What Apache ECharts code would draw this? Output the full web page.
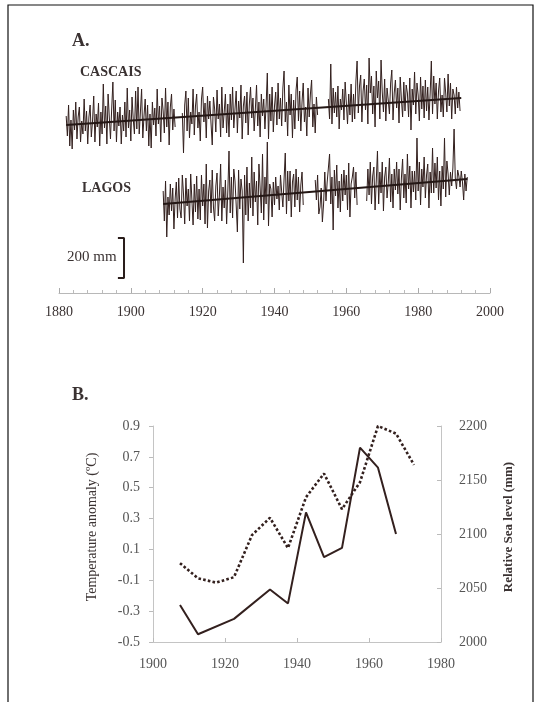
<!DOCTYPE html>
<html>
<head>
<meta charset="utf-8">
<script src="https://cdn.jsdelivr.net/npm/echarts@6/dist/echarts.min.js"></script>
<style>
    body { margin: 0; background: #fff; }
    #chart { width: 542px; height: 702px; }
</style>
</head>
<body>
<div id="chart"></div>
<script>
// panel A: monthly-ish sea level (mm), 3 readings per year
var cascaisStart = 1882;
var cascaisLevel = [
    // 1882-1886
    2095, 1995, 2150, 1945, 2075, 1930, 2125, 2025, 2165, 1980, 2090, 2140, 1965, 2070, 2005,
    // 1887-1891
    2180, 2020, 2120, 1955, 2090, 2150, 1990, 2070, 2195, 1965, 2105, 2040, 2160, 1945, 2115,
    // 1892-1896
    2005, 2255, 2035, 2145, 1955, 2205, 2090, 1980, 2130, 2265, 2020, 2175, 1965, 2115, 2045,
    // 1897-1901
    2140, 1955, 2100, 2020, 2165, 1990, 2235, 2035, 2125, 1970, 2190, 2080, 2005, 2220, 2030,
    // 1902-1906
    2240, 2005, 2115, 2230, 1985, 2095, 2180, 2020, 2150, 1945, 2105, 1935, 2165, 2050, 2135,
    // 1907-1911
    1995, 2230, 2055, 2145, 1965, 2185, 2120, 2010, 2235, 2040, 2165, 1950, 2140, 2205, 2025,
    // 1912-1916
    2130, 2040, null, null, null, null, null, 2110, 1910, 2150, 2220, 2020, 2185, 1985, 2115,
    // 1917-1921
    2055, 2230, 2000, 2145, 2205, 2035, 2115, 1970, 2180, 2240, 2065, 2160, 1985, 2195, 2080,
    // 1922-1926
    2170, 2055, 1950, 2190, 2130, 2015, 2225, 2080, 2155, 1990, 2240, 2035, 2115, 2205, 2010,
    // 1927-1931
    2155, 1990, 2205, 2075, 2240, 2035, 2130, 2220, 2010, 2170, 2085, 2250, 1980, 2145, 2195,
    // 1932-1936
    2060, 2215, 2000, 2155, 2240, 2085, 2185, 2020, 2130, 2250, 2045, 2165, 1990, 2205, 2095,
    // 1937-1941
    2180, 2030, 2150, 2310, 1980, 2205, 2070, 2240, 2015, 2145, 2215, 2050, 2260, 2080, 2185,
    // 1942-1946
    2045, 2235, 2320, 2065, 2165, 1995, 2250, 2100, 2205, 1985, 2175, 2030, 2225, 2290, 2070,
    // 1947-1951
    2220, 2020, 2165, 2260, 2065, 2140, 1995, 2235, 2090, 2205, 2275, 2040, 2155, 2010, 2190,
    // 1952-1956
    2100, null, null, null, null, null, null, null, null, 2180, 2080, 2355, 2055, 2235, 2110,
    // 1957-1961
    2215, 2090, 2245, 2030, 2180, 2125, 2230, 2075, 2265, 2160, 2055, 2205, 2100, 2255, 2065,
    // 1962-1966
    2205, 2080, 2270, 2370, 2110, 2245, 2300, 2065, 2220, 2280, 2125, 2250, 2055, 2385, 2210,
    // 1967-1971
    2295, 2105, 2245, 2040, 2320, 2185, 2270, 2080, 2375, 2215, 2115, 2280, 2070, 2235, 2175,
    // 1972-1976
    2105, 2260, 2325, 2075, 2210, 2275, 2135, 2235, 2060, 2290, 2180, 2090, 2265, 2120, 2250,
    // 1977-1981
    2210, 2090, 2285, 2025, 2230, 2150, 2315, 2105, 2260, 2200, 2070, 2290, 2130, 2245, 2085,
    // 1982-1986
    2275, 2120, 2240, 2075, 2205, 2370, 2105, 2295, 2155, 2260, 2080, 2220, 2285, 2115, 2200,
    // 1987-1991
    2090, 2285, 2210, 2115, 2305, 2145, 2260, 2080, 2230, 2200, 2105, 2240, 2135, 2215, 2120
];
var cascaisTrendYears = [1882, 1992];
var cascaisTrend = [2050, 2185];

var lagosStart = 1909;
var lagosLevel = [
    // 1909-1913
    1965, 1815, 2015, 1735, 1935, 1845, 2000, 1865, 1980, 1775, 1925, 2010, 1830, 2030, 1875,
    // 1914-1918
    1830, 2045, 1950, 1800, 2030, 1890, 1975, 1815, 2050, 1920, 1795, 2000, 1860, 2040, 1825,
    // 1919-1923
    1975, 1820, 2045, 1890, 2000, 1800, 2100, 1780, 1965, 2020, 1855, 2070, 1885, 1815, 1990,
    // 1924-1928
    2055, 1840, 1945, 2100, 1815, 1985, 1880, 2020, 1800, 1960, 2165, 1855, 2035, 1830, 2075,
    // 1929-1933
    2015, 1895, 1760, 2070, 1875, 2025, 1965, 1605, 2045, 1845, 2085, 1815, 2005, 1880, 2135,
    // 1934-1938
    1840, 2060, 1910, 2015, 1795, 2100, 1980, 1855, 2150, 1820, 2035, 1900, 2210, 1790, 2000,
    // 1939-1943
    1975, 1835, 2010, 1895, 2035, 1925, 1990, 1870, 2045, 1960, 1885, 2025, 2155, 1850, 2065,
    // 1944-1948
    1915, 2065, 1835, 2010, 2050, 1885, 2075, 1920, 2035, 1860, 1995, 2060, 1895, null, null,
    // 1949-1953
    null, null, null, null, null, null, null, 2020, 1920, 2045, 1850, 1885, 1980, 1810, 1900,
    // 1954-1958
    2060, 1915, 2010, 2080, 2150, 1900, 2035, 1770, 2070, 1940, 2095, 1880, 2015, 1860, 2050,
    // 1959-1963
    1915, 2070, 1945, 2045, 1870, 2105, 1835, 2000, 2035, 2085, 1930, 2060, 1895, null, null,
    // 1964-1968
    null, null, null, null, null, 1915, 2075, 1945, 2110, 1900, 2040, 2085, 1870, 2015, 2165,
    // 1969-1973
    1900, 2060, 1955, 2110, 1865, 2035, 2085, 1930, 2005, 2130, 1910, 2050, 1880, 2075, 1970,
    // 1974-1978
    2110, 1950, 2075, 1870, 2030, 2125, 1930, 2050, 1905, 2150, 1975, 2090, 1880, 2065, 1960,
    // 1979-1983
    2065, 1920, 2230, 1965, 2110, 1895, 2075, 1985, 2135, 1930, 2045, 2100, 1880, 2060, 1955,
    // 1984-1988
    2180, 1955, 2105, 1980, 2135, 1920, 2065, 1890, 2090, 1975, 2230, 1935, 2115, 2050, 1945,
    // 1989-1993
    2060, 1990, 2080, 2275, 2030, 1975, 2070, 2040, 1985, 2065, 2010, 1920, 2050, 1965, 2035
];
var lagosTrendYears = [1909, 1993.7];
var lagosTrend = [1900, 2025];

// 200 mm scale bar (Lagos axis units)
var scaleBarYear = 1898.1;
var scaleBarTop = 1730;
var scaleBarMm = 200;

// panel B
var bYears = [1907.5, 1912.5, 1917.5, 1922.5, 1927.5, 1932.5, 1937.5, 1942.5, 1947.5, 1952.5, 1957.5, 1962.5, 1967.5, 1972.5];
var tempAnomaly = [-0.26, -0.45, null, -0.35, null, -0.16, -0.25, 0.34, 0.05, 0.11, 0.76, 0.63, 0.20, null];
var seaLevel = [2073, 2059, 2055, 2060, 2099, 2115, 2087, 2134, 2156, 2123, 2148, 2200, 2193, 2164];
var tempTicks = [-0.5, -0.3, -0.1, 0.1, 0.3, 0.5, 0.7, 0.9];

var serif = "'Liberation Serif', 'Times New Roman', serif";
var ink = '#33201e';
var textInk = '#3a3232';

function toPairs(start, arr) {
    return arr.map(function (v, i) {
        return [start + i / 3, v == null ? '-' : v];
    });
}
function zipPairs(xs, ys) {
    return xs.map(function (x, i) { return [x, ys[i]]; });
}
function plain(v) { return String(v); }

var chart = echarts.init(document.getElementById('chart'));

var option = {
    animation: false,
    backgroundColor: '#fff',
    grid: [
        { left: 59, right: 52, top: 40, height: 253 },
        { left: 153, right: 101, top: 426, height: 216 }
    ],
    xAxis: [
        {
            gridIndex: 0, type: 'value', min: 1880, max: 2000, interval: 20,
            axisLine: { onZero: false, lineStyle: { color: '#b8b8b8', width: 1 } },
            axisTick: { inside: true, length: 5, lineStyle: { color: '#aaa' } },
            minorTick: { show: true, splitNumber: 5, length: 3, lineStyle: { color: '#bbb' } },
            axisLabel: { color: textInk, fontFamily: serif, fontSize: 14, margin: 12, formatter: plain },
            splitLine: { show: false }
        },
        {
            gridIndex: 1, type: 'value', min: 1900, max: 1980, interval: 20,
            axisLine: { onZero: false, lineStyle: { color: '#c4c4c4', width: 1 } },
            axisTick: { inside: true, length: 4, lineStyle: { color: '#bbb' } },
            axisLabel: { color: '#555', fontFamily: serif, fontSize: 14, margin: 15, formatter: plain },
            splitLine: { show: false }
        }
    ],
    yAxis: [
        { gridIndex: 0, type: 'value', min: 1210, max: 2475, show: false },
        { gridIndex: 0, type: 'value', min: 1455, max: 2720, show: false },
        {
            gridIndex: 1, type: 'value', min: -0.5, max: 0.9, position: 'left',
            axisLine: { show: true, onZero: false, lineStyle: { color: '#c4c4c4', width: 1 } },
            axisTick: { show: true, customValues: tempTicks, length: 4, lineStyle: { color: '#bbb' } },
            axisLabel: {
                customValues: tempTicks, color: '#555', fontFamily: serif, fontSize: 14, margin: 13,
                formatter: function (v) { return v.toFixed(1); }
            },
            splitLine: { show: false }
        },
        {
            gridIndex: 1, type: 'value', min: 2000, max: 2200, interval: 50, position: 'right',
            axisLine: { show: true, onZero: false, lineStyle: { color: '#c4c4c4', width: 1 } },
            axisTick: { show: true, inside: true, length: 4, lineStyle: { color: '#bbb' } },
            axisLabel: { color: '#555', fontFamily: serif, fontSize: 14, margin: 18, formatter: plain },
            splitLine: { show: false }
        }
    ],
    series: [
        {
            name: 'CASCAIS', type: 'line', xAxisIndex: 0, yAxisIndex: 0,
            data: toPairs(cascaisStart, cascaisLevel), symbol: 'none',
            lineStyle: { color: ink, width: 1 }
        },
        {
            name: 'CASCAIS trend', type: 'line', xAxisIndex: 0, yAxisIndex: 0,
            data: zipPairs(cascaisTrendYears, cascaisTrend), symbol: 'none',
            lineStyle: { color: '#241715', width: 2.2 }
        },
        {
            name: 'LAGOS', type: 'line', xAxisIndex: 0, yAxisIndex: 1,
            data: toPairs(lagosStart, lagosLevel), symbol: 'none',
            lineStyle: { color: ink, width: 1 }
        },
        {
            name: 'LAGOS trend', type: 'line', xAxisIndex: 0, yAxisIndex: 1,
            data: zipPairs(lagosTrendYears, lagosTrend), symbol: 'none',
            lineStyle: { color: '#241715', width: 2.2 }
        },
        {
            name: 'scale', type: 'line', xAxisIndex: 0, yAxisIndex: 1, symbol: 'none',
            data: [
                [scaleBarYear - 1.7, scaleBarTop], [scaleBarYear, scaleBarTop],
                [scaleBarYear, scaleBarTop - scaleBarMm], [scaleBarYear - 1.7, scaleBarTop - scaleBarMm]
            ],
            lineStyle: { color: '#2a1d1b', width: 2 }
        },
        {
            name: 'Temperature anomaly', type: 'line', xAxisIndex: 1, yAxisIndex: 2,
            data: zipPairs(bYears, tempAnomaly), symbol: 'none', connectNulls: true,
            lineStyle: { color: ink, width: 2 }
        },
        {
            name: 'Relative Sea level', type: 'line', xAxisIndex: 1, yAxisIndex: 3,
            data: zipPairs(bYears, seaLevel), symbol: 'none',
            lineStyle: { color: ink, width: 2.6, type: [2.6, 2.2] }
        }
    ],
    graphic: [
        {
            type: 'polyline', silent: true,
            shape: { points: [[8, 720], [8, 5], [533, 5], [533, 720]] },
            style: { stroke: '#111', lineWidth: 1.2, fill: null }
        },
        { type: 'text', x: 72, y: 41, style: { text: 'A.', font: 'bold 18px ' + serif, fill: textInk, textVerticalAlign: 'middle' } },
        { type: 'text', x: 80, y: 72, style: { text: 'CASCAIS', font: 'bold 14px ' + serif, fill: textInk, textVerticalAlign: 'middle' } },
        { type: 'text', x: 82, y: 188, style: { text: 'LAGOS', font: 'bold 14px ' + serif, fill: textInk, textVerticalAlign: 'middle' } },
        { type: 'text', x: 67, y: 257, style: { text: '200 mm', font: '15px ' + serif, fill: textInk, textVerticalAlign: 'middle' } },
        { type: 'text', x: 72, y: 395, style: { text: 'B.', font: 'bold 18px ' + serif, fill: textInk, textVerticalAlign: 'middle' } },
        {
            type: 'text', x: 92, y: 527, rotation: Math.PI / 2,
            style: { text: 'Temperature anomaly (ºC)', font: '14px ' + serif, fill: textInk, textAlign: 'center', textVerticalAlign: 'middle' }
        },
        {
            type: 'text', x: 509, y: 527, rotation: Math.PI / 2,
            style: { text: 'Relative Sea level (mm)', font: 'bold 13px ' + serif, fill: textInk, textAlign: 'center', textVerticalAlign: 'middle' }
        }
    ]
};

chart.setOption(option);
</script>
</body>
</html>
